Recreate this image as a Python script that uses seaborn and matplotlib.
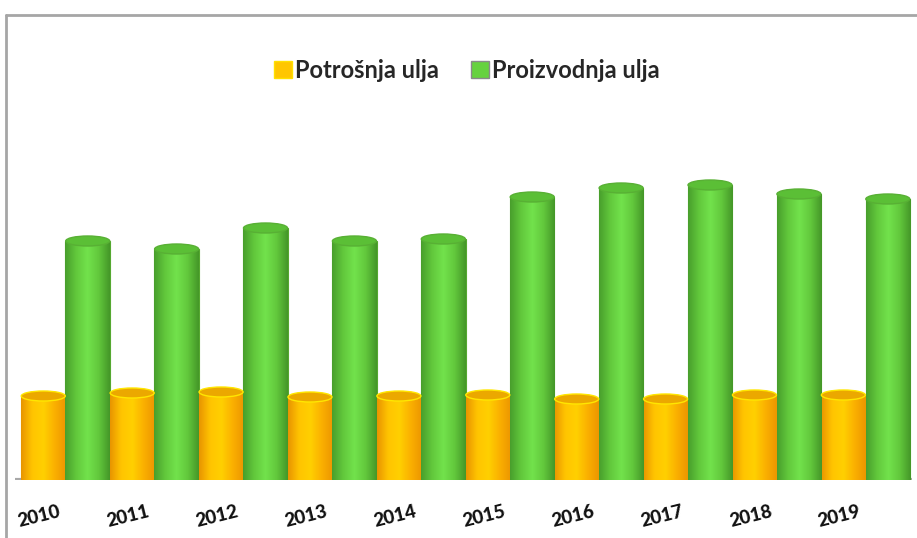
import numpy as np
import pandas as pd
import matplotlib
matplotlib.use("Agg")
import matplotlib.pyplot as plt
import matplotlib.transforms as mtransforms
from matplotlib.patches import Ellipse
from matplotlib.lines import Line2D
from matplotlib.colors import LinearSegmentedColormap
import seaborn as sns

years = ["2010", "2011", "2012", "2013", "2014", "2015", "2016", "2017", "2018", "2019"]
potrosnja = [84, 87, 88, 83, 84, 85, 81, 81, 85, 85]
proizvodnja = [239, 231, 252, 239, 241, 283, 292, 295, 286, 281]
series_names = ["Potrošnja ulja", "Proizvodnja ulja"]

df = pd.DataFrame({
    "year": years * 2,
    "value": potrosnja + proizvodnja,
    "series": [series_names[0]] * len(years) + [series_names[1]] * len(years),
})

sns.set_theme(style="white")
plt.rcParams["font.family"] = ["Lato", "DejaVu Sans"]

W, H = 917, 538
fig = plt.figure(figsize=(W / 100, H / 100), dpi=100)
ax_left, ax_right = 15, 912
ax_top, ax_bottom = 130, 480
ax = fig.add_axes([ax_left / W, (H - ax_bottom) / H, (ax_right - ax_left) / W, (ax_bottom - ax_top) / H])

palette = {series_names[0]: "#FFC600", series_names[1]: "#66D23E"}
sns.barplot(data=df, x="year", y="value", hue="series", hue_order=series_names,
            palette=palette, width=1.0, gap=0, ax=ax, saturation=1, legend=True)

ax.set_xlim(-0.568, 9.522)
ax.set_ylim(0, ax_bottom - ax_top)

# cylinder shading
cmaps = {
    series_names[0]: LinearSegmentedColormap.from_list("y", ["#E89400", "#FFC400", "#FFD000", "#FBB000", "#EC9600"]),
    series_names[1]: LinearSegmentedColormap.from_list("g", ["#489E2C", "#62C83C", "#72E24C", "#62C83C", "#449628"]),
}
top_face = {series_names[0]: "#EBA800", series_names[1]: "#5BBF36"}
top_edge = {series_names[0]: "#FFE600", series_names[1]: "#58B034"}
side_edge = {series_names[0]: "#FFE000", series_names[1]: "#55A830"}
grad = np.linspace(0, 1, 256).reshape(1, -1)

nbars = len(years)
patches = list(ax.patches)[: 2 * nbars]
for k, p in enumerate(patches):
    s = series_names[k // nbars]
    x0, y0 = p.get_x(), p.get_y()
    w, h = p.get_width(), p.get_height()
    p.set_edgecolor(side_edge[s])
    p.set_linewidth(0.8)
    im = ax.imshow(grad, cmap=cmaps[s], aspect="auto", extent=(x0, x0 + w, y0, y0 + h),
                   zorder=p.get_zorder() + 0.1, interpolation="bilinear")
    im.set_clip_path(p)
    ell = Ellipse((x0 + w / 2, y0 + h), w * 0.99, 10, facecolor=top_face[s],
                  edgecolor=top_edge[s], lw=1.0, zorder=p.get_zorder() + 0.2)
    ax.add_patch(ell)
ax.set_xlim(-0.568, 9.522)
ax.set_ylim(0, ax_bottom - ax_top)

# axes styling
for sp in ax.spines.values():
    sp.set_visible(False)
ax.set_yticks([])
ax.set_xlabel("")
ax.set_ylabel("")
ax.axhline(0, color="#A8A8A8", lw=3, zorder=1)
ax.tick_params(axis="x", length=0, pad=26)
offset = mtransforms.ScaledTranslation(-26 / 100, 0, fig.dpi_scale_trans)
for lbl in ax.get_xticklabels():
    lbl.set_rotation(14)
    lbl.set_fontsize(13.5)
    lbl.set_fontweight("black")
    lbl.set_color("#111111")
    lbl.set_ha("center")
    lbl.set_va("center")
    lbl.set_transform(lbl.get_transform() + offset)

# legend
ax.get_legend().remove()
h1 = plt.Rectangle((0, 0), 1, 1, facecolor="#FFC600", edgecolor="#FFE000", lw=1)
h2 = plt.Rectangle((0, 0), 1, 1, facecolor="#66D23E", edgecolor="#8A8A8A", lw=1)
fig.legend([h1, h2], series_names, loc="center", bbox_to_anchor=(467 / W, 1 - 70 / H),
           ncol=2, frameon=False, handlelength=0.75, handleheight=0.75, handletextpad=0.15,
           columnspacing=1.36, prop={"family": ["Lato", "DejaVu Sans"], "weight": "bold", "size": 17})

# chart border
fig.add_artist(Line2D([6 / W, 6 / W], [0, 1 - 15 / H], transform=fig.transFigure, color="#A6A6A6", lw=2))
fig.add_artist(Line2D([6 / W, 1], [1 - 15 / H, 1 - 15 / H], transform=fig.transFigure, color="#A6A6A6", lw=2))

fig.savefig("out.png", dpi=100)
